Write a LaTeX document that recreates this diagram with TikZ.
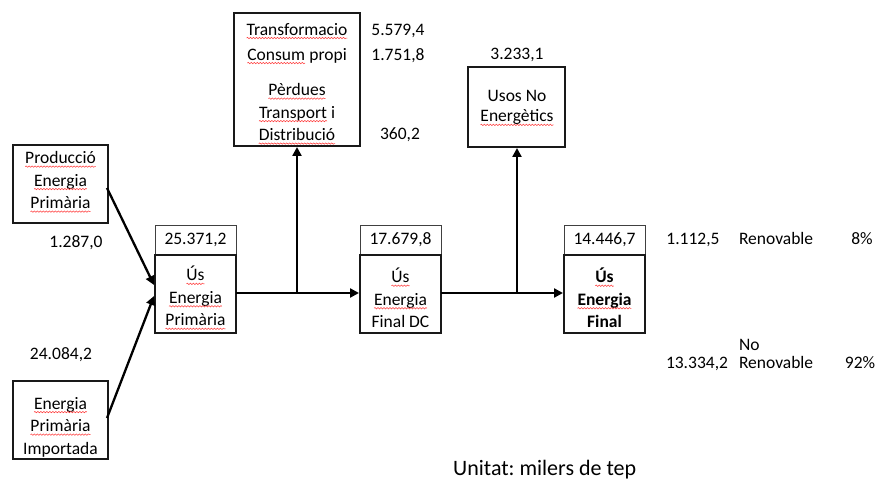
\documentclass[tikz,border=0pt]{standalone}
\usepackage{fontspec}
\setmainfont{Carlito}
\frenchspacing
\usetikzlibrary{arrows.meta,decorations.pathmorphing}
\tikzset{
  sqline/.style={draw=red!75!white, line width=0.55pt, decorate,
    decoration={snake, amplitude=0.7pt, segment length=3pt}},
  mainbox/.style={draw=black!90, line width=1.7pt},
  valbox/.style={draw=black!75, line width=0.8pt},
  txt/.style={inner sep=0pt, outer sep=0pt, align=center,
    font=\fontsize{17.5}{22.5}\selectfont},
  rtxt/.style={inner sep=0pt, outer sep=0pt,
    font=\fontsize{17.5}{22.5}\selectfont},
  flow/.style={line width=2.3pt, -{Triangle[length=9pt,width=9pt]}}
}
\newcommand\sq[1]{\tikz[x=1pt,y=1pt,baseline=(sqw.base)]{\node[inner sep=0pt,outer sep=0pt,draw=none,fill=none,anchor=base](sqw) at (0,0){#1};\draw[sqline]([yshift=-3pt]sqw.base west)--([yshift=-3pt]sqw.base east);}}
\begin{document}
\begin{tikzpicture}[x=1pt,y=-1pt]
\useasboundingbox[fill=white] (0,0) rectangle (879,481);

% left input boxes
\draw[mainbox] (13,145) rectangle (108,223);
\node[txt] (prodtxt) at (60.5,182) {\sq{Producció}\\\sq{Energia}\\\sq{Primària}};
\coordinate (prodout) at (107,188);
\node[txt] (prodval) at (76,243) {1.287,0};

\draw[mainbox] (13,381) rectangle (108,459);
\node[txt] (imptxt) at (60.5,427) {\sq{Energia}\\\sq{Primària}\\Importada};
\coordinate (impout) at (107,418);
\node[txt] (impval) at (61,355) {24.084,2};

% box 1: Us Energia Primaria
\draw[valbox] (155,225) rectangle (236,255);
\node[txt] (v1) at (195.5,240) {25.371,2};
\draw[mainbox] (155,255) rectangle (236,333);
\node[txt] (b1) at (195.5,298) {\sq{Ús}\\\sq{Energia}\\\sq{Primària}};
\coordinate (b1inA) at (154,285);
\coordinate (b1inB) at (154,296);
\coordinate (b1out) at (236,293);

% box 2: Us Energia Final DC
\draw[valbox] (360,225) rectangle (441,255);
\node[txt] (v2) at (400.5,240) {17.679,8};
\draw[mainbox] (360,255) rectangle (441,333);
\node[txt] (b2) at (400.5,298) {\sq{Ús}\\\sq{Energia}\\Final DC};
\coordinate (b2in) at (359,293);
\coordinate (b2out) at (441,293);

% box 3: Us Energia Final
\draw[valbox] (564,225) rectangle (645,255);
\node[txt] (v3) at (604.5,240) {14.446,7};
\draw[mainbox] (564,255) rectangle (645,333);
\node[txt,font=\fontsize{17.5}{22.5}\selectfont\bfseries] (b3) at (604.5,298) {\sq{Ús}\\\sq{Energia}\\Final};
\coordinate (b3in) at (563,293);

% top box: losses
\draw[mainbox] (234,13) rectangle (360,146);
\node[txt] (t1) at (297,31) {\sq{Transformacio}};
\node[txt] (t2) at (297,56) {\sq{Consum} propi};
\node[txt] (t3) at (297,114) {\sq{Pèrdues}\\\sq{Transport} i\\\sq{Distribució}};
\node[txt] (t1v) at (398,31) {5.579,4};
\node[txt] (t2v) at (398,56) {1.751,8};
\node[txt] (t3v) at (400,135) {360,2};
\coordinate (topin) at (297,147);
\coordinate (j1) at (297,293);

% non-energy uses box
\draw[mainbox] (468,67) rectangle (565,147);
\node[txt] (u0) at (517,55) {3.233,1};
\node[txt,font=\fontsize{17.5}{20.5}\selectfont] (u1) at (517,108) {Usos No\\\sq{Energètics}};
\coordinate (usin) at (517,148);
\coordinate (j2) at (517,293);

% right-side figures
\node[rtxt,anchor=base] (r1) at (693,245) {1.112,5};
\node[rtxt,anchor=base west] (r2) at (739,245) {Renovable};
\node[rtxt,anchor=base] (r3) at (862,245) {8\%};
\node[rtxt,anchor=base west] (r4) at (739,350) {No};
\node[rtxt,anchor=base] (r5) at (697,368) {13.334,2};
\node[rtxt,anchor=base west] (r6) at (739,368) {Renovable};
\node[rtxt,anchor=base] (r7) at (860,368) {92\%};

% unit label
\node[inner sep=0pt,anchor=base west,font=\fontsize{22}{26}\selectfont] (unit) at (453,475) {Unitat: milers de tep};

% connectors
\draw[flow] (prodout) -- (b1inA);
\draw[flow] (impout) -- (b1inB);
\draw[flow] (b1out) -- (b2in);
\draw[flow] (j1) -- (topin);
\draw[flow] (b2out) -- (b3in);
\draw[flow] (j2) -- (usin);
\end{tikzpicture}
\end{document}
